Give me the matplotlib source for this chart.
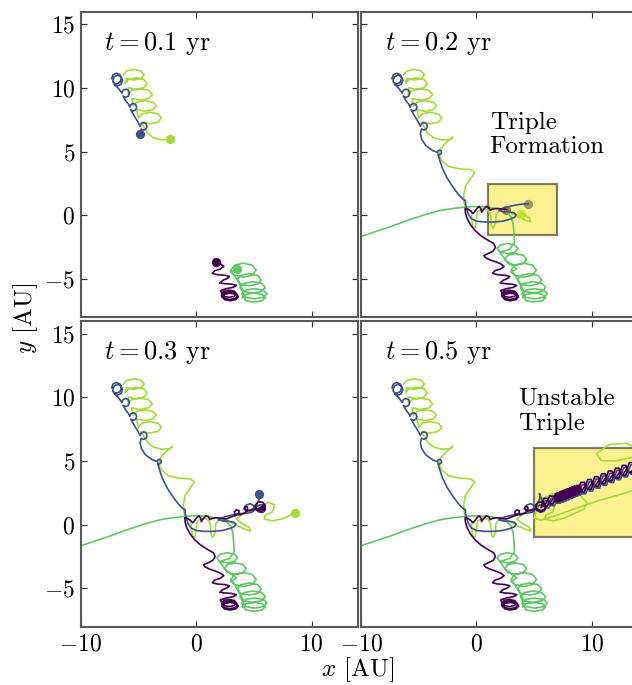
import matplotlib
matplotlib.use("Agg")
import matplotlib.pyplot as plt
from matplotlib.patches import Rectangle
import numpy as np

plt.rcParams['font.family'] = 'serif'
plt.rcParams['font.serif'] = ['cmr10']
plt.rcParams['mathtext.fontset'] = 'cm'
plt.rcParams['axes.formatter.use_mathtext'] = True
plt.rcParams['font.size'] = 17

# snapshot times (yr)
times = ['0.1', '0.2', '0.3', '0.5']

# orbit tracks in AU, one list per time interval: 0-0.1, 0.1-0.2, 0.2-0.3, 0.3-0.5
blue_segs = [
    [(-7.32, 10.75), (-7.2, 11.05), (-6.9, 11.17), (-6.6, 11.05), (-6.48, 10.75), (-6.6, 10.45),
     (-6.9, 10.33), (-7.2, 10.45),
     (-7.22, 10.6), (-7.1, 10.9), (-6.8, 11.02), (-6.5, 10.9), (-6.38, 10.6), (-6.5, 10.3),
     (-6.8, 10.18), (-7.1, 10.3),
     (-6.75, 10.0),
     (-6.42, 9.6), (-6.33, 9.83), (-6.1, 9.92), (-5.87, 9.83), (-5.78, 9.6), (-5.87, 9.37),
     (-6.1, 9.28), (-6.33, 9.37),
     (-6.1, 9.0), (-5.85, 8.72),
     (-5.75, 8.5), (-5.66, 8.71), (-5.45, 8.8), (-5.24, 8.71), (-5.15, 8.5), (-5.24, 8.29),
     (-5.45, 8.2), (-5.66, 8.29),
     (-5.45, 7.95), (-5.05, 7.35),
     (-4.85, 7.0), (-4.76, 7.21), (-4.55, 7.3), (-4.34, 7.21), (-4.25, 7.0), (-4.34, 6.79),
     (-4.55, 6.7), (-4.76, 6.79),
     (-4.85, 6.42)],
    [(-4.75, 6.0), (-4.4, 5.5), (-3.8, 5.1),
     (-3.38, 4.95), (-3.33, 5.08), (-3.2, 5.13), (-3.07, 5.08), (-3.02, 4.95), (-3.07, 4.82),
     (-3.2, 4.77), (-3.33, 4.82),
     (-3.2, 4.4), (-2.95, 3.7), (-2.55, 2.95), (-2.05, 2.25), (-1.6, 1.7), (-1.25, 1.35),
     (-1.05, 1.2), (-0.95, 1.2), (-0.95, 0.9), (-0.85, 0.5), (-0.7, 0.1), (-0.45, -0.25),
     (0.0, -0.45), (0.7, -0.52), (1.5, -0.52), (2.3, -0.45), (2.9, -0.3), (3.3, -0.15),
     (3.45, 0.05), (3.25, 0.2), (2.8, 0.28), (2.3, 0.3), (1.95, 0.38), (2.1, 0.5), (2.6, 0.65),
     (3.3, 0.8), (3.9, 0.88), (4.47, 0.92)],
    [(4.85, 0.98), (5.05, 1.2), (5.0, 1.5), (4.7, 1.65), (4.35, 1.55), (4.2, 1.3), (4.35, 1.1),
     (4.7, 1.15), (5.1, 1.35), (5.5, 1.55), (5.85, 1.55), (6.0, 1.3), (5.85, 1.05), (5.5, 0.98),
     (5.2, 1.15), (5.2, 1.5), (5.4, 1.85), (5.5, 2.15), (5.47, 2.45)],
    [(5.65, 2.0), (5.8, 1.75),
     (5.82, 1.61), (5.97, 1.9), (6.27, 1.9), (6.42, 1.61), (6.27, 1.32), (5.97, 1.32),
     (6.32, 1.79), (6.47, 2.08), (6.77, 2.08), (6.92, 1.79), (6.77, 1.5), (6.47, 1.5),
     (6.82, 1.98), (6.97, 2.27), (7.27, 2.27), (7.42, 1.98), (7.27, 1.69), (6.97, 1.69),
     (7.07, 2.07), (7.22, 2.36), (7.52, 2.36), (7.67, 2.07), (7.52, 1.78), (7.22, 1.78),
     (7.32, 2.16), (7.47, 2.45), (7.77, 2.45), (7.92, 2.16), (7.77, 1.87), (7.47, 1.87),
     (7.57, 2.25), (7.72, 2.54), (8.02, 2.54), (8.17, 2.25), (8.02, 1.96), (7.72, 1.96),
     (7.82, 2.35), (7.97, 2.64), (8.27, 2.64), (8.42, 2.35), (8.27, 2.06), (7.97, 2.06),
     (8.07, 2.44), (8.22, 2.73), (8.52, 2.73), (8.67, 2.44), (8.52, 2.15), (8.22, 2.15),
     (8.32, 2.53), (8.47, 2.82), (8.77, 2.82), (8.92, 2.53), (8.77, 2.24), (8.47, 2.24),
     (8.57, 2.62), (8.72, 2.91), (9.02, 2.91), (9.17, 2.62), (9.02, 2.33), (8.72, 2.33),
     (9.02, 2.79), (9.17, 3.15), (9.47, 3.15), (9.62, 2.79), (9.47, 2.43), (9.17, 2.43),
     (9.62, 3.01), (9.77, 3.37), (10.07, 3.37), (10.22, 3.01), (10.07, 2.65), (9.77, 2.65),
     (10.22, 3.23), (10.37, 3.59), (10.67, 3.59), (10.82, 3.23), (10.67, 2.87), (10.37, 2.87),
     (10.82, 3.46), (10.97, 3.82), (11.27, 3.82), (11.42, 3.46), (11.27, 3.1), (10.97, 3.1),
     (11.42, 3.68), (11.57, 4.04), (11.87, 4.04), (12.02, 3.68), (11.87, 3.32), (11.57, 3.32),
     (12.02, 3.9), (12.17, 4.26), (12.47, 4.26), (12.62, 3.9), (12.47, 3.54), (12.17, 3.54),
     (12.62, 4.12), (12.77, 4.48), (13.07, 4.48), (13.22, 4.12), (13.07, 3.76), (12.77, 3.76),
     (13.22, 4.34), (13.37, 4.7), (13.67, 4.7), (13.82, 4.34), (13.67, 3.98), (13.37, 3.98),
     (14.5, 4.6)],
]

purple_segs = [
    [(2.25, -6.4), (2.46, -6.19), (2.95, -6.1), (3.44, -6.19), (3.65, -6.4), (3.44, -6.61),
     (2.95, -6.7), (2.46, -6.61),
     (2.2, -6.3), (2.41, -6.09), (2.9, -6.0), (3.39, -6.09), (3.6, -6.3), (3.39, -6.51),
     (2.9, -6.6), (2.41, -6.51),
     (2.2, -6.15), (2.39, -5.95), (2.85, -5.87), (3.31, -5.95), (3.5, -6.15), (3.31, -6.35),
     (2.85, -6.43), (2.39, -6.35),
     (2.1, -5.9), (2.6, -5.75), (3.2, -5.65), (3.5, -5.5), (3.1, -5.4), (2.4, -5.35),
     (2.05, -5.3), (2.3, -5.1), (2.7, -4.95), (2.9, -4.8), (2.5, -4.7), (1.8, -4.65),
     (1.4, -4.55), (1.6, -4.35), (2.1, -4.2), (2.4, -4.0), (2.1, -3.8), (1.73, -3.66)],
    [(1.2, -3.5), (0.75, -3.3), (0.65, -3.15), (1.0, -3.0), (1.45, -2.8), (1.65, -2.5),
     (1.5, -2.2), (1.0, -1.95), (0.4, -1.6), (-0.1, -1.2), (-0.5, -0.75), (-0.8, -0.25),
     (-0.95, 0.2), (-0.98, 0.55), (-0.75, 0.5), (-0.5, 0.35), (-0.3, 0.15), (-0.15, 0.3),
     (0.05, 0.55), (0.25, 0.7), (0.4, 0.5), (0.45, 0.25), (0.6, 0.45), (0.85, 0.7),
     (1.05, 0.65), (1.2, 0.4), (1.4, 0.5), (1.8, 0.55), (2.2, 0.5), (2.6, 0.45)],
    [(3.0, 0.6), (3.4, 0.72), (3.7, 0.9), (3.72, 1.1), (3.5, 1.18), (3.3, 1.0), (3.4, 0.8),
     (3.8, 0.78), (4.2, 0.92), (4.45, 1.15), (4.45, 1.4), (4.25, 1.45), (4.15, 1.25),
     (4.4, 1.1), (4.8, 1.12), (5.2, 1.25), (5.6, 1.1), (5.95, 1.2), (6.0, 1.5), (5.75, 1.78),
     (5.35, 1.78), (5.1, 1.5), (5.25, 1.15), (5.65, 1.02), (5.95, 1.25), (5.85, 1.55),
     (5.6, 1.35)],
    [(5.7, 1.76), (5.85, 2.07), (6.15, 2.07), (6.3, 1.76), (6.15, 1.45), (5.85, 1.45),
     (6.2, 1.94), (6.35, 2.25), (6.65, 2.25), (6.8, 1.94), (6.65, 1.63), (6.35, 1.63),
     (6.7, 2.13), (6.85, 2.44), (7.15, 2.44), (7.3, 2.13), (7.15, 1.82), (6.85, 1.82),
     (6.825, 2.18), (6.975, 2.49), (7.275, 2.49), (7.425, 2.18), (7.275, 1.87), (6.975, 1.87),
     (6.95, 2.22), (7.1, 2.53), (7.4, 2.53), (7.55, 2.22), (7.4, 1.91), (7.1, 1.91),
     (7.075, 2.27), (7.225, 2.58), (7.525, 2.58), (7.675, 2.27), (7.525, 1.96), (7.225, 1.96),
     (7.2, 2.31), (7.35, 2.62), (7.65, 2.62), (7.8, 2.31), (7.65, 2.0), (7.35, 2.0),
     (7.325, 2.36), (7.475, 2.67), (7.775, 2.67), (7.925, 2.36), (7.775, 2.05), (7.475, 2.05),
     (7.45, 2.4), (7.6, 2.71), (7.9, 2.71), (8.05, 2.4), (7.9, 2.09), (7.6, 2.09),
     (7.575, 2.45), (7.725, 2.76), (8.025, 2.76), (8.175, 2.45), (8.025, 2.14), (7.725, 2.14),
     (7.7, 2.5), (7.85, 2.81), (8.15, 2.81), (8.3, 2.5), (8.15, 2.19), (7.85, 2.19),
     (7.825, 2.54), (7.975, 2.85), (8.275, 2.85), (8.425, 2.54), (8.275, 2.23), (7.975, 2.23),
     (7.95, 2.59), (8.1, 2.9), (8.4, 2.9), (8.55, 2.59), (8.4, 2.28), (8.1, 2.28),
     (8.075, 2.64), (8.225, 2.95), (8.525, 2.95), (8.675, 2.64), (8.525, 2.33), (8.225, 2.33),
     (8.2, 2.68), (8.35, 2.99), (8.65, 2.99), (8.8, 2.68), (8.65, 2.37), (8.35, 2.37),
     (8.325, 2.73), (8.475, 3.04), (8.775, 3.04), (8.925, 2.73), (8.775, 2.42), (8.475, 2.42),
     (8.45, 2.77), (8.6, 3.08), (8.9, 3.08), (9.05, 2.77), (8.9, 2.46), (8.6, 2.46),
     (8.9, 2.94), (9.05, 3.33), (9.35, 3.33), (9.5, 2.94), (9.35, 2.55), (9.05, 2.55),
     (9.5, 3.16), (9.65, 3.55), (9.95, 3.55), (10.1, 3.16), (9.95, 2.77), (9.65, 2.77),
     (10.1, 3.38), (10.25, 3.77), (10.55, 3.77), (10.7, 3.38), (10.55, 2.99), (10.25, 2.99),
     (10.7, 3.61), (10.85, 4.0), (11.15, 4.0), (11.3, 3.61), (11.15, 3.22), (10.85, 3.22),
     (11.3, 3.83), (11.45, 4.22), (11.75, 4.22), (11.9, 3.83), (11.75, 3.44), (11.45, 3.44),
     (11.9, 4.05), (12.05, 4.44), (12.35, 4.44), (12.5, 4.05), (12.35, 3.66), (12.05, 3.66),
     (12.5, 4.27), (12.65, 4.66), (12.95, 4.66), (13.1, 4.27), (12.95, 3.88), (12.65, 3.88),
     (13.1, 4.49), (13.25, 4.88), (13.55, 4.88), (13.7, 4.49), (13.55, 4.1), (13.25, 4.1),
     (14.5, 4.8)],
]

green_segs = [
    [(4.0, -6.45), (4.3, -6.2), (5.0, -6.1), (5.7, -6.2), (6.0, -6.45), (5.7, -6.7),
     (5.0, -6.8), (4.3, -6.7),
     (3.95, -6.15), (4.28, -5.87), (5.05, -5.75), (5.82, -5.87), (6.15, -6.15), (5.82, -6.43),
     (5.05, -6.55), (4.28, -6.43),
     (3.8, -5.65), (4.13, -5.33), (4.9, -5.2), (5.67, -5.33), (6.0, -5.65), (5.67, -5.97),
     (4.9, -6.1), (4.13, -5.97),
     (3.55, -5.05), (3.86, -4.71), (4.6, -4.57), (5.34, -4.71), (5.65, -5.05), (5.34, -5.39),
     (4.6, -5.53), (3.86, -5.39),
     (3.0, -4.3), (3.33, -3.91), (4.1, -3.75), (4.87, -3.91), (5.2, -4.3), (4.87, -4.69),
     (4.1, -4.85), (3.33, -4.69),
     (3.0, -4.45), (3.5, -4.19)],
    [(2.45, -3.45), (2.73, -3.13), (3.4, -3.0), (4.07, -3.13), (4.35, -3.45), (4.07, -3.77),
     (3.4, -3.9), (2.73, -3.77),
     (1.8, -2.6), (2.07, -2.32), (2.7, -2.2), (3.33, -2.32), (3.6, -2.6), (3.33, -2.88),
     (2.7, -3.0), (2.07, -2.88),
     (2.9, -2.65), (3.3, -2.1), (3.25, -1.4), (3.2, -0.7), (3.0, -0.1), (2.6, 0.25),
     (1.8, 0.52), (0.8, 0.68), (-0.3, 0.7), (-1.0, 0.65), (-2.0, 0.55), (-3.1, 0.4),
     (-4.5, 0.05), (-6.0, -0.4), (-7.5, -0.9), (-9.0, -1.35), (-10.5, -1.8), (-12.0, -2.3)],
    [],
    [],
]

yellow_segs = [
    [(-6.3, 11.05), (-6.03, 11.34), (-5.4, 11.47), (-4.77, 11.34), (-4.5, 11.05), (-4.77, 10.76),
     (-5.4, 10.63), (-6.03, 10.76),
     (-6.15, 10.35), (-5.87, 10.67), (-5.2, 10.8), (-4.53, 10.67), (-4.25, 10.35), (-4.53, 10.03),
     (-5.2, 9.9), (-5.87, 10.03),
     (-5.9, 9.5), (-5.59, 9.82), (-4.85, 9.95), (-4.11, 9.82), (-3.8, 9.5), (-4.11, 9.18),
     (-4.85, 9.05), (-5.59, 9.18),
     (-5.45, 8.6), (-5.15, 8.89), (-4.45, 9.02), (-3.75, 8.89), (-3.45, 8.6), (-3.75, 8.31),
     (-4.45, 8.18), (-5.15, 8.31),
     (-5.0, 7.65), (-4.7, 7.97), (-4.0, 8.1), (-3.3, 7.97), (-3.0, 7.65), (-3.3, 7.33),
     (-4.0, 7.2), (-4.7, 7.33),
     (-4.55, 6.95), (-4.2, 6.45), (-3.7, 6.1), (-3.0, 5.93), (-2.3, 5.97)],
    [(-2.05, 6.15), (-2.6, 5.75), (-3.1, 5.25), (-3.25, 4.8), (-3.0, 4.3), (-2.4, 3.85),
     (-1.4, 3.65), (-0.5, 3.6), (-0.15, 3.35), (-0.5, 2.9), (-0.95, 2.3), (-1.1, 1.6),
     (-1.05, 0.9), (-0.8, 0.5), (-0.45, 0.35), (-0.4, -0.3), (-0.3, -0.95), (-0.1, -0.95),
     (0.0, -0.3), (0.1, 0.3), (0.5, 0.5), (1.0, 0.45), (1.25, 0.0), (1.3, -0.8), (1.45, -1.0),
     (1.65, -0.6), (1.7, 0.1), (2.0, 0.4), (2.6, 0.35), (3.4, 0.0), (4.2, -0.35), (4.7, -0.5),
     (4.6, -0.2), (3.9, 0.15)],
    [(3.5, 0.45), (4.0, 0.8), (4.8, 1.1), (5.6, 1.5), (6.3, 1.75), (6.8, 1.55), (6.6, 1.0),
     (6.0, 0.75), (5.9, 0.45), (6.6, 0.3), (7.6, 0.5), (8.56, 0.92)],
    [(9.3, 1.2), (9.6, 1.7), (9.0, 2.3), (7.8, 2.5), (6.5, 2.4), (5.6, 2.0), (5.2, 1.2),
     (5.0, 0.5), (5.6, 0.35), (7.0, 0.75), (8.8, 1.35), (10.6, 1.9), (12.2, 2.3), (13.6, 2.7),
     (15.0, 3.2), (15.5, 4.5), (14.5, 5.8), (13.0, 6.4), (11.5, 6.3), (10.4, 5.6), (10.8, 5.05),
     (12.0, 5.0), (13.5, 5.3), (15.0, 5.7)],
]

# draw order: first listed ends up underneath
bodies = [
    (yellow_segs, '#a5db36'),
    (green_segs, '#5ec962'),
    (blue_segs, '#3b528b'),
    (purple_segs, '#440154'),
]

# highlighted regions: (panel, (x0, y0), width, height, label, label position)
boxes = [
    (1, (1, -1.5), 6, 4, 'Triple\nFormation', (1.15, 8.15)),
    (3, (5, -1), 10, 7, 'Unstable\nTriple', (3.6, 10.75)),
]

fig = plt.figure(figsize=(6.32, 6.85), dpi=100)
W, H = 632.0, 685.0
pw, ph = 277.0, 305.6
lefts = [80.7, 361.0]
tops = [11.7, 321.0]

axes = []
for r in range(2):
    for c in range(2):
        ax = fig.add_axes([lefts[c] / W, 1 - (tops[r] + ph) / H, pw / W, ph / H])
        axes.append(ax)

for k, ax in enumerate(axes):
    for segs, col in bodies:
        pts = [p for s in segs[:k + 1] for p in s]
        xy = np.array(pts)
        ax.plot(xy[:, 0], xy[:, 1], color=col, lw=1.2, solid_joinstyle='round')
    for segs, col in bodies:
        pts = [p for s in segs[:k + 1] for p in s]
        ax.scatter([pts[-1][0]], [pts[-1][1]], s=45, color=col, linewidths=0)

    for panel, xy0, w, h, label, lpos in boxes:
        if panel == k:
            ax.add_patch(Rectangle(xy0, w, h, facecolor='#fde725', edgecolor='k',
                                   lw=1.6, alpha=0.5))
            ax.text(lpos[0], lpos[1], label, ha='left', va='top', fontsize=18,
                    linespacing=1.15)

    ax.text(0.085, 0.875, r'$t = %s$ yr' % times[k], transform=ax.transAxes,
            fontsize=19, va='baseline')

    ax.set_xlim(-10, 14)
    ax.set_ylim(-8, 16)
    ax.set_xticks([-10, 0, 10])
    ax.set_yticks([-5, 0, 5, 10, 15])
    ax.tick_params(direction='in', length=4, width=0.8, top=True, right=True,
                   labelsize=17, color='0.2')
    ax.tick_params(axis='x', pad=5)
    ax.tick_params(axis='y', pad=4)
    for sp in ax.spines.values():
        sp.set_color('0.35')
        sp.set_linewidth(1.5)
    if k in (0, 1):
        ax.set_xticklabels([])
    if k in (1, 3):
        ax.set_yticklabels([])

fig.text(358 / W, 1 - 670 / H, r'$x$ [AU]', ha='center', va='center', fontsize=18)
fig.text(26 / W, 1 - 318 / H, r'$y$ [AU]', ha='center', va='center', rotation=90, fontsize=18)

fig.savefig('out.png', dpi=100)
